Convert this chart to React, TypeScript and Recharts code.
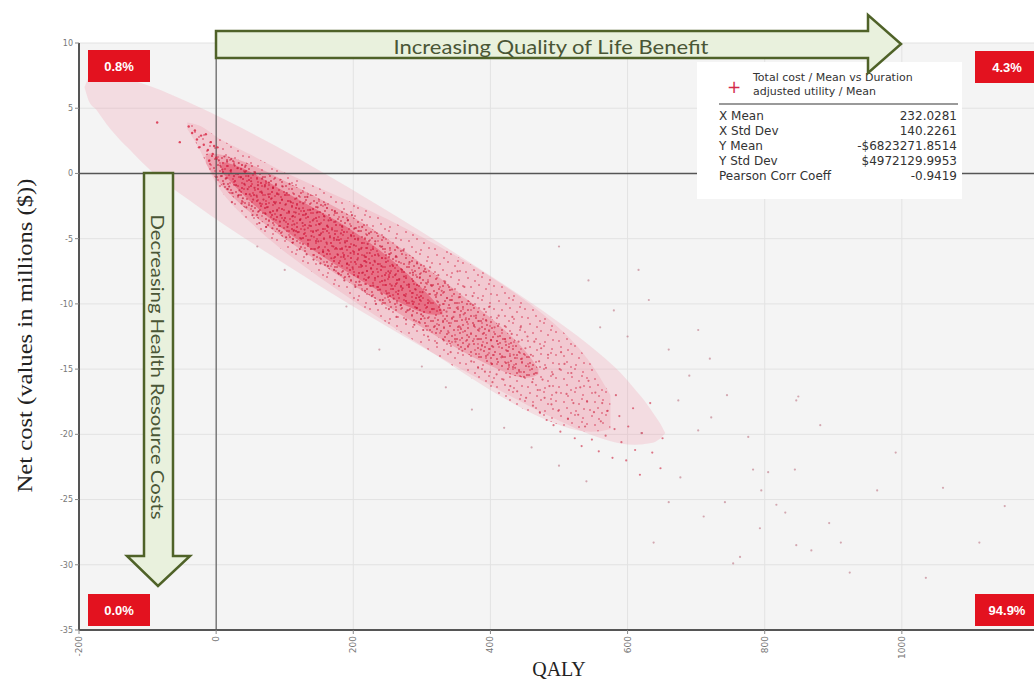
import {
  ComposedChart,
  Area,
  Scatter,
  XAxis,
  YAxis,
  CartesianGrid,
  ReferenceLine,
  Legend,
} from 'recharts';

const Q_TICKS = [-200, 0, 200, 400, 600, 800, 1000, 1200];
const COST_TICKS = [-35, -30, -25, -20, -15, -10, -5, 0, 5, 10];

// confidence ellipse, read as lower / upper edge per QALY value
const ELLIPSE_Q = [-192, -186, -175, -160, -146, -120, -97, -30, 87, 232, 378, 494, 561, 590, 610, 630, 639, 648, 655];
const ELLIPSE_LOW = [6.6, 5.6, 4.9, 3.8, 2.9, 1.5, 0.3, -2.4, -6.5, -11.2, -15.6, -18.8, -20.3, -20.7, -20.8, -20.7, -20.6, -20.3, -19.9];
const ELLIPSE_HIGH = [6.6, 7.3, 7.6, 7.6, 7.4, 7.1, 6.7, 5.2, 2.1, -2.3, -7.1, -11.2, -13.9, -15.3, -16.5, -17.8, -18.5, -19.2, -19.9];

// where the simulation cloud is sparse / dense / densest
const CLOUD_Q = [-42, -20, 0, 50, 100, 200, 300, 400, 480, 540, 575];
const CLOUD_LOW = [3.4, 1.6, -1.2, -3.8, -6.1, -9.8, -13.2, -16.7, -19.0, -20.0, -19.6];
const CLOUD_HIGH = [3.9, 3.7, 2.7, 1.5, 0.0, -2.2, -4.8, -7.8, -10.8, -13.8, -17.0];

const CORE_Q = [-15, 0, 50, 100, 150, 200, 250, 300, 350, 400, 450, 470];
const CORE_LOW = [0.8, -0.6, -3.1, -5.0, -6.8, -8.6, -10.2, -11.8, -13.4, -14.8, -15.9, -15.4];
const CORE_HIGH = [1.5, 1.6, 0.8, -0.6, -1.9, -3.3, -5.0, -6.9, -9.0, -11.0, -13.4, -15.0];

const DEEP_Q = [8, 40, 80, 130, 180, 230, 270, 310, 330];
const DEEP_LOW = [0.1, -1.7, -3.6, -5.5, -7.2, -8.8, -10.0, -10.9, -10.8];
const DEEP_HIGH = [0.9, 0.5, -0.8, -2.3, -3.7, -5.5, -7.2, -9.3, -10.5];

const TAIL_POINTS = [
  [-86, 3.9], [-53, 2.4], [-40, 3.6], [-35, 3.1], [-31, 3.3], [-28, 2.6], [-25, 2.0], [-22, 2.9],
  [-18, 2.2], [-15, 3.0], [-12, 1.8], [-10, 1.0], [-8, 2.4], [-5, 1.5], [-3, 2.1], [0, 1.2], [2, 2.0],
];

const CORE_POINTS = [
  [4, 1.0], [7, -0.2], [6, 0.6], [11, -0.8], [9, 0.3], [12, 1.3], [16, 0.9], [14, -0.4], [17, -1.2],
  [21, 0.2], [19, -1.0], [22, 1.1], [26, -0.2], [24, -1.5], [27, 0.6], [23, -2.2], [31, 0.4], [29, -0.9],
  [32, -1.7], [36, -0.3], [34, -1.3], [37, -2.3], [33, 0.8], [41, -0.8], [39, -1.9], [42, 0.1], [46, -1.2],
  [44, -2.6], [47, -0.2], [43, 0.6], [51, -0.6], [49, -1.6], [52, -2.5], [53, -3.2], [56, -1.1], [54, -2.0],
  [57, 0.0], [61, -0.9], [59, -1.7], [62, -2.9], [63, -3.8], [66, -1.4], [64, -2.3], [67, -0.4], [71, -1.0],
  [69, -2.0], [72, -3.1], [73, -4.1], [76, -1.6], [74, -2.6], [77, -0.7], [81, -1.9], [79, -3.0], [82, -4.2],
  [83, -1.1], [86, -2.3], [84, -3.5], [87, -0.9], [91, -1.6], [89, -2.8], [92, -4.4], [93, -3.7], [96, -2.0],
  [94, -3.2], [97, -1.0], [101, -2.4], [99, -3.6], [102, -4.9], [103, -1.5], [106, -2.9], [104, -4.1],
  [107, -0.8], [111, -3.3], [109, -2.2], [112, -5.3], [113, -4.4], [116, -3.0], [114, -3.9], [117, -1.9],
  [121, -2.7], [119, -4.5], [122, -5.8], [123, -3.5], [126, -3.8], [124, -5.0], [127, -2.3], [131, -3.1],
  [129, -4.3], [132, -6.2], [133, -1.8], [136, -4.0], [134, -5.4], [137, -2.8], [141, -3.6], [139, -4.8],
  [142, -6.6], [146, -4.4], [144, -5.8], [147, -3.0], [151, -3.9], [149, -5.2], [152, -6.9], [148, -2.6],
];

const MID_POINTS = [
  [153, -4.6], [156, -6.0], [158, -3.3], [161, -5.3], [163, -7.1], [162, -4.0], [159, -2.4], [166, -4.9],
  [168, -6.5], [164, -3.6], [171, -5.6], [172, -7.4], [169, -4.3], [173, -2.9], [176, -5.1], [177, -6.2],
  [174, -3.7], [181, -5.8], [179, -7.7], [182, -4.6], [186, -6.4], [184, -4.1], [187, -8.2], [188, -5.3],
  [191, -6.9], [189, -5.6], [192, -3.6], [196, -6.1], [194, -7.9], [197, -4.8], [201, -5.5], [199, -7.2],
  [203, -8.7], [202, -4.2], [198, -3.2], [206, -6.6], [207, -5.0], [211, -7.0], [209, -8.3], [212, -5.7],
  [213, -4.1], [216, -6.3], [217, -9.0], [214, -7.6], [221, -5.4], [219, -6.8], [222, -8.0], [223, -4.6],
  [226, -7.3], [227, -9.4], [224, -6.1], [231, -6.7], [229, -8.6], [232, -5.2], [233, -10.0], [236, -7.9],
  [237, -6.3], [241, -7.1], [239, -8.9], [242, -5.6], [243, -9.7], [246, -8.2], [247, -6.5], [244, -4.9],
  [251, -7.5], [249, -9.2], [252, -10.4], [253, -6.2], [256, -8.6], [257, -7.0], [261, -7.8], [259, -9.6],
  [262, -6.4], [263, -11.0], [266, -9.0], [267, -8.1], [271, -7.4], [269, -10.1], [272, -8.8], [273, -5.9],
  [276, -9.4], [277, -11.2], [274, -7.9], [281, -8.5], [279, -10.5], [282, -6.8], [286, -9.8], [287, -7.6],
  [291, -8.9], [289, -11.6], [292, -10.3], [293, -6.9], [296, -9.5], [297, -8.0], [301, -9.1], [299, -10.8],
  [302, -12.0], [303, -7.5],
];

const LOWER_POINTS = [
  [306, -8.4], [304, -11.1], [311, -9.8], [309, -12.5], [312, -7.2], [316, -10.4], [314, -8.6], [321, -9.3],
  [319, -11.7], [322, -13.0], [326, -10.1], [324, -7.8], [331, -11.3], [329, -9.0], [332, -12.8], [336, -10.6],
  [334, -8.3], [341, -9.7], [339, -12.2], [342, -13.7], [346, -11.0], [344, -8.9], [351, -10.3], [349, -12.9],
  [352, -7.5], [356, -11.8], [354, -9.5], [361, -10.8], [359, -13.6], [362, -8.7], [366, -12.4], [364, -11.2],
  [371, -10.0], [369, -13.1], [372, -14.4], [376, -11.6], [374, -9.4], [381, -12.7], [379, -10.9], [382, -14.9],
  [386, -13.5], [384, -11.9], [391, -10.4], [389, -12.3], [392, -15.2], [396, -13.9], [394, -11.3], [401, -12.8],
  [399, -10.2], [402, -14.6], [403, -16.0], [406, -11.8], [404, -13.3], [411, -12.5], [409, -15.4], [412, -10.9],
  [416, -14.1], [414, -13.0], [421, -11.7], [419, -15.8], [422, -12.9], [426, -14.5], [424, -13.6], [431, -12.3],
  [429, -16.3], [432, -11.0], [436, -14.9], [434, -13.9], [441, -12.9], [439, -16.7], [442, -15.2], [446, -14.2],
  [444, -11.8], [451, -13.4], [449, -15.6], [452, -17.2], [456, -14.8], [454, -12.5], [461, -16.0], [459, -13.9],
  [462, -17.8], [466, -15.3], [464, -12.9], [471, -14.4], [469, -16.6], [472, -18.3], [476, -15.8], [474, -13.4],
  [481, -14.9], [479, -17.2], [482, -18.9], [486, -16.3], [484, -13.9], [491, -15.4], [489, -17.7], [492, -19.3],
  [496, -16.8], [501, -15.0], [499, -18.2], [503, -13.7], [502, -19.8], [511, -16.9], [508, -14.6], [513, -18.8],
  [521, -17.6], [518, -15.3], [523, -20.3], [531, -16.4], [528, -18.5], [533, -20.9], [541, -17.5], [538, -19.4],
  [543, -15.9], [551, -18.3], [548, -20.4], [553, -16.8], [561, -19.0], [558, -21.3], [563, -17.6], [571, -18.2],
  [568, -20.1], [581, -19.6], [578, -21.8], [583, -17.0], [591, -20.6], [588, -18.6], [601, -19.4], [598, -22.0],
  [611, -21.2], [608, -18.0], [621, -19.9], [618, -23.1], [636, -21.4], [633, -17.6], [651, -20.3], [648, -22.6],
];

const OUTLIER_POINTS = [
  [500, -5.6], [543, -8.2], [616, -7.4], [631, -9.7], [703, -12.0], [580, -10.5], [660, -13.5], [690, -15.5],
  [720, -14.2], [745, -17.0], [600, -12.5], [560, -11.8], [238, -13.5], [335, -16.4], [373, -18.1], [300, -14.8],
  [420, -19.5], [460, -21.0], [500, -22.4], [540, -23.6], [190, -10.2], [100, -7.4], [60, -5.6],
  [846, -17.4], [844, -22.7], [991, -21.4], [964, -24.3], [1113, -28.3], [924, -30.6], [1035, -31.0],
  [764, -29.4], [846, -28.5], [911, -28.3], [868, -28.9], [830, -26.0], [817, -25.4], [795, -24.3],
  [793, -27.2], [677, -23.3], [660, -25.2], [742, -25.2], [711, -26.3], [638, -28.3], [754, -29.9],
  [776, -20.2], [722, -18.7], [620, -19.9], [674, -17.4], [703, -19.7], [881, -19.3], [849, -17.1],
  [894, -26.8], [783, -22.7], [805, -22.9], [1150, -25.5], [1060, -24.1],
];

const STATS_LABELS = ['X Mean', 'X Std Dev', 'Y Mean', 'Y Std Dev', 'Pearson Corr Coeff'];
const STATS_VALUES = ['232.0281', '140.2261', '-$6823271.8514', '$4972129.9953', '-0.9419'];

const band = (qs: number[], low: number[], high: number[]) =>
  qs.map((q, i) => ({ q, band: [low[i], high[i]] }));
const points = (list: number[][]) => list.map(([q, c]) => ({ q, c }));

const ellipseData = band(ELLIPSE_Q, ELLIPSE_LOW, ELLIPSE_HIGH);
const cloudData = band(CLOUD_Q, CLOUD_LOW, CLOUD_HIGH);
const coreData = band(CORE_Q, CORE_LOW, CORE_HIGH);
const deepData = band(DEEP_Q, DEEP_LOW, DEEP_HIGH);

const dot = (color: string, r: number, opacity: number) => (props: any) => (
  <circle cx={props.cx} cy={props.cy} r={r} fill={color} fillOpacity={opacity} />
);

// speckle textures for the dense part of the cloud (fill patterns only)
const SPECK_A = [
  [2, 3], [7, 1], [12, 4], [18, 2], [22, 6], [4, 9], [9, 7], [15, 10], [20, 12], [1, 15], [6, 14], [11, 16],
  [17, 17], [23, 15], [13, 13], [5, 5],
];
const SPECK_B = [
  [3, 2], [10, 5], [17, 1], [25, 4], [29, 10], [6, 11], [14, 9], [21, 13], [1, 19], [9, 17], [18, 20],
  [26, 18], [13, 22], [24, 8],
];

const Speckles = () => (
  <svg width={0} height={0} style={{ position: 'absolute' }}>
    <defs>
      <pattern id="speckA" patternUnits="userSpaceOnUse" width={24} height={18}>
        {SPECK_A.map(([x, y], i) => (
          <circle key={i} cx={x} cy={y} r={0.95} fill="#cf1b3b" fillOpacity={0.8} />
        ))}
      </pattern>
      <pattern id="speckB" patternUnits="userSpaceOnUse" width={31} height={23}>
        {SPECK_B.map(([x, y], i) => (
          <circle key={i} cx={x} cy={y} r={1} fill="#d42244" fillOpacity={0.75} />
        ))}
      </pattern>
    </defs>
  </svg>
);

const XTick = ({ x, y, payload }: any) => (
  <text
    x={x}
    y={y}
    transform={`rotate(-90 ${x} ${y})`}
    textAnchor="end"
    dominantBaseline="central"
    fontSize={9}
    fill="#777"
    fontFamily="DejaVu Sans"
  >
    {payload.value}
  </text>
);

const YLabel = ({ viewBox }: any) => {
  const cx = viewBox.x + 25;
  const cy = viewBox.y + viewBox.height / 2 - 1;
  return (
    <text
      x={cx}
      y={cy}
      transform={`rotate(-90 ${cx} ${cy})`}
      textAnchor="middle"
      dominantBaseline="central"
      fontSize={20}
      textLength={314}
      lengthAdjust="spacingAndGlyphs"
      fill="#222"
      fontFamily="Liberation Serif"
    >
      Net cost (values in millions ($))
    </text>
  );
};

const StatsBox = () => (
  <div
    style={{
      position: 'relative',
      width: 265,
      height: 137,
      background: '#fff',
      fontFamily: 'DejaVu Sans',
      color: '#333',
    }}
  >
    <span style={{ position: 'absolute', left: 30, top: 15, fontSize: 17, color: '#d42a4a' }}>+</span>
    <div style={{ position: 'absolute', left: 56, top: 9, fontSize: 11, lineHeight: '14px' }}>
      Total cost / Mean vs Duration
      <br />
      adjusted utility / Mean
    </div>
    <div style={{ position: 'absolute', left: 22, top: 41, width: 239, height: 2, background: '#9a9a9a' }} />
    {STATS_LABELS.map((label, i) => (
      <div
        key={label}
        style={{
          position: 'absolute',
          left: 22,
          right: 5,
          top: 47 + i * 15,
          fontSize: 12,
          lineHeight: '15px',
          display: 'flex',
          justifyContent: 'space-between',
        }}
      >
        <span>{label}</span>
        <span>{STATS_VALUES[i]}</span>
      </div>
    ))}
  </div>
);

const RedTag = ({ x, y, w, text }: { x: number; y: number; w: number; text: string }) => (
  <g>
    <rect x={x} y={y} width={w} height={32} fill="#e3121f" />
    <text
      x={x + w / 2}
      y={y + 16}
      textAnchor="middle"
      dominantBaseline="central"
      fill="#fff"
      fontSize={13}
      fontWeight="bold"
      fontFamily="Liberation Sans"
    >
      {text}
    </text>
  </g>
);

export default function App() {
  return (
    <div
      style={{
        position: 'fixed',
        left: 0,
        top: 0,
        width: 1034,
        height: 682,
        overflow: 'hidden',
        background: '#fff',
      }}
    >
      <Speckles />
      <ComposedChart width={1044} height={682} margin={{ top: 43, right: 5, bottom: 0, left: 0 }}>
        <CartesianGrid stroke="#e2e2e2" fill="#f4f4f4" />
        <XAxis
          type="number"
          dataKey="q"
          domain={[-200, 1200]}
          ticks={Q_TICKS}
          interval={0}
          height={52}
          tickSize={4}
          axisLine={{ stroke: '#555', strokeWidth: 2 }}
          tickLine={{ stroke: '#888' }}
          tick={<XTick />}
          label={{
            value: 'QALY',
            position: 'insideBottom',
            offset: 6,
            style: { fontFamily: 'Liberation Serif', fontSize: 20, fill: '#222' },
          }}
        />
        <YAxis
          type="number"
          domain={[-35, 10]}
          ticks={COST_TICKS}
          interval={0}
          width={79}
          tickSize={4}
          axisLine={{ stroke: '#555', strokeWidth: 2 }}
          tickLine={{ stroke: '#888' }}
          tick={{ fontSize: 8, fill: '#777', fontFamily: 'DejaVu Sans' }}
          label={<YLabel />}
        />
        <Legend
          layout="vertical"
          align="center"
          verticalAlign="middle"
          content={<StatsBox />}
          wrapperStyle={{ position: 'absolute', left: 697, top: 62, width: 265, height: 137 }}
        />
        <Area data={ellipseData} dataKey="band" type="monotone" fill="#f08aa0" fillOpacity={0.22} stroke="none" isAnimationActive={false} />
        <Area data={cloudData} dataKey="band" type="basis" fill="#ec6a84" fillOpacity={0.17} stroke="none" isAnimationActive={false} />
        <Area data={cloudData} dataKey="band" type="basis" fill="url(#speckB)" fillOpacity={0.7} stroke="none" isAnimationActive={false} />
        <Area data={coreData} dataKey="band" type="basis" fill="#e43c5a" fillOpacity={0.26} stroke="none" isAnimationActive={false} />
        <Area data={coreData} dataKey="band" type="basis" fill="url(#speckA)" fillOpacity={0.9} stroke="none" isAnimationActive={false} />
        <Area data={deepData} dataKey="band" type="basis" fill="#e02a4c" fillOpacity={0.42} stroke="none" isAnimationActive={false} />
        <Area data={deepData} dataKey="band" type="basis" fill="url(#speckB)" fillOpacity={1} stroke="none" isAnimationActive={false} />
        <Scatter data={points(TAIL_POINTS)} dataKey="c" shape={dot('#d8223f', 1.2, 0.8)} isAnimationActive={false} />
        <Scatter data={points(CORE_POINTS)} dataKey="c" shape={dot('#c41838', 1.1, 0.7)} isAnimationActive={false} />
        <Scatter data={points(MID_POINTS)} dataKey="c" shape={dot('#c81a3a', 1.1, 0.7)} isAnimationActive={false} />
        <Scatter data={points(LOWER_POINTS)} dataKey="c" shape={dot('#d0304a', 1.1, 0.65)} isAnimationActive={false} />
        <Scatter data={points(OUTLIER_POINTS)} dataKey="c" shape={dot('#b86878', 1.1, 0.55)} isAnimationActive={false} />
        <ReferenceLine y={0} stroke="#555" strokeWidth={1.5} />
        <ReferenceLine x={0} stroke="#444" strokeWidth={1} />
      </ComposedChart>
      <svg
        width={1034}
        height={682}
        style={{ position: 'absolute', left: 0, top: 0, pointerEvents: 'none' }}
      >
        <polygon
          points="216,31 868,31 868,15 901,44 868,73 868,58 216,58"
          fill="#e9f1dd"
          stroke="#4f6228"
          strokeWidth={2.5}
        />
        <text
          x={551}
          y={46}
          textAnchor="middle"
          dominantBaseline="central"
          fontSize={19}
          textLength={315}
          lengthAdjust="spacingAndGlyphs"
          fill="#4a5636"
          fontFamily="Lato"
        >
          Increasing Quality of Life Benefit
        </text>
        <polygon
          points="144,173 173,173 173,556 190,556 158,586 127,556 144,556"
          fill="#e9f1dd"
          stroke="#4f6228"
          strokeWidth={2.5}
        />
        <text
          x={158}
          y={367}
          transform="rotate(90 158 367)"
          textAnchor="middle"
          dominantBaseline="central"
          fontSize={18}
          textLength={305}
          lengthAdjust="spacingAndGlyphs"
          fill="#4a5636"
          fontFamily="Lato"
        >
          Decreasing Health Resource Costs
        </text>
        <RedTag x={88} y={50} w={62} text="0.8%" />
        <RedTag x={975} y={51} w={64} text="4.3%" />
        <RedTag x={88} y={594} w={62} text="0.0%" />
        <RedTag x={975} y={594} w={64} text="94.9%" />
      </svg>
    </div>
  );
}
